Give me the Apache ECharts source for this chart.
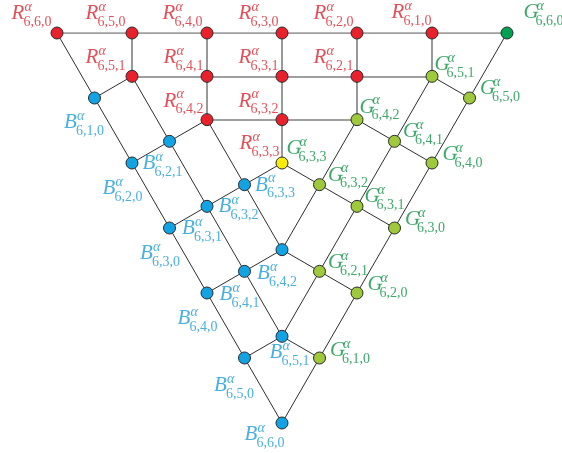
<!DOCTYPE html>
<html><head><meta charset="utf-8">
<script src="https://cdn.jsdelivr.net/npm/echarts@6/dist/echarts.min.js"></script>
<style>html,body{margin:0;padding:0;background:#fff}#c{width:562px;height:453px}</style>
</head><body><div id="c"></div>
<script>
// ---- data: lattice positions (column, row) ----
const redNodes = [[0,0],[2,0],[4,0],[6,0],[8,0],[10,0],[2,2],[4,2],[6,2],[8,2],[4,4],[6,4]];
const blueNodes = [[1,3],[3,5],[2,6],[5,7],[4,8],[3,9],[6,10],[5,11],[4,12],[6,14],[5,15],[6,18]];
const greenNodes = [[10,2],[8,4],[11,3],[9,5],[10,6],[7,7],[8,8],[9,9],[7,11],[8,12],[7,15]];
const darkGreenNodes = [[12,0]];
const yellowNodes = [[6,6]];

// grid (gray) segments and diagonal (dark) segments, between lattice nodes
const gridSegments = [
  [[0,0],[12,0]], [[2,2],[10,2]], [[4,4],[8,4]],
  [[2,0],[2,2]], [[4,0],[4,4]], [[6,0],[6,6]], [[8,0],[8,4]], [[10,0],[10,2]]
];
const diagSegments = [
  [[0,0],[6,18]], [[2,2],[6,14]], [[4,4],[6,10]],
  [[12,0],[6,18]], [[10,2],[6,14]], [[8,4],[6,10]],
  [[1,3],[2,2]], [[2,6],[4,4]], [[3,9],[6,6]], [[4,12],[6,10]], [[5,15],[6,14]],
  [[11,3],[10,2]], [[10,6],[8,4]], [[9,9],[6,6]], [[8,12],[6,10]], [[7,15],[6,14]]
];

// labels: letter, subscript, anchor node
const labelLetters = ['R','R','R','R','R','R','G','R','R','R','R','G','R','R','G','R','G',
  'B','B','B','B','B','B','B','B','B','B','B','B','B',
  'G','G','G','G','G','G','G','G','G'];
const labelSubs = ['6,6,0','6,5,0','6,4,0','6,3,0','6,2,0','6,1,0','6,6,0','6,5,1','6,4,1','6,3,1','6,2,1','6,5,1','6,4,2','6,3,2','6,4,2','6,3,3','6,3,3',
  '6,1,0','6,2,0','6,2,1','6,3,3','6,3,2','6,3,0','6,3,1','6,4,2','6,4,0','6,4,1','6,5,1','6,5,0','6,6,0',
  '6,5,0','6,4,1','6,4,0','6,3,2','6,3,1','6,3,0','6,2,1','6,2,0','6,1,0'];
const labelAnchors = [[0,0],[2,0],[4,0],[6,0],[8,0],[10,0],[12,0],[2,2],[4,2],[6,2],[8,2],[10,2],[4,4],[6,4],[8,4],[6,6],[6,6],
  [1,3],[2,6],[2,6],[5,7],[4,8],[3,9],[3,9],[5,11],[4,12],[4,12],[6,14],[5,15],[6,18],
  [11,3],[9,5],[10,6],[7,7],[8,8],[9,9],[7,11],[8,12],[7,15]];

// ---- styling ----
const labelOffsets = [[-45,-19],[-46,-19],[-44,-19],[-43,-19],[-43,-19],[-40,-20],[17,-20],[-46,-18],[-43,-18],[-43,-18],[-43,-18],[3,-11],[-43,-18],[-43,-18],[3,-12],[-42,-19],[5,-14],
  [-30,25],[-29,26],[11,1],[11,1],[12,1],[-29,26],[13,1],[13,3],[-29,26],[13,2],[-12,17],[-30,28],[-37,12],
  [11,-9],[9,-9],[11,-8],[9,-9],[8,-9],[11,-8],[9,-8],[11,-8],[11,-7]];
const textColors = {R:'#d9262f', B:'#1b9bd7', G:'#0c9242'};
const serif = '"Liberation Serif", "DejaVu Serif", serif';

function segData(segs){ return segs.map(s => ({coords: s})); }
function nodeSeries(data, color){
  return {type:'scatter', data, symbol:'circle', symbolSize:12, z:5,
    itemStyle:{color, borderColor:'#2b2b2b', borderWidth:1, opacity:1}, silent:true};
}
function labelSeries(kind){
  return {type:'scatter', symbol:'circle', symbolSize:1, z:10, silent:true,
    itemStyle:{color:'rgba(0,0,0,0)'},
    data: labelAnchors.map((a,i) => {
      const [dx,dy] = labelOffsets[i];
      const color = textColors[labelLetters[i]];
      let label;
      if (kind === 'letter') label = {show:true, formatter: labelLetters[i], position:[dx,dy], align:'left', verticalAlign:'middle',
        color, fontFamily: serif, fontStyle:'italic', fontSize:21};
      else if (kind === 'alpha') label = {show:true, formatter:'α', position:[dx+13,dy-6.5], align:'left', verticalAlign:'middle',
        color, fontFamily: serif, fontStyle:'italic', fontSize:14};
      else label = {show:true, formatter: labelSubs[i], position:[dx+12,dy+8.5], align:'left', verticalAlign:'middle',
        color, fontFamily: serif, fontSize:14};
      return {value:a, label};
    })
  };
}

const chart = echarts.init(document.getElementById('c'), null, {renderer:'canvas'});
chart.setOption({
  animation:false,
  backgroundColor:'#ffffff',
  grid:{left:57, right:55, top:33, bottom:30},
  xAxis:{type:'value', min:0, max:12, show:false},
  yAxis:{type:'value', min:0, max:18, inverse:true, show:false},
  series:[
    {type:'lines', coordinateSystem:'cartesian2d', data:segData(gridSegments), z:1, silent:true,
      lineStyle:{color:'#7f7f7f', width:1.6, opacity:1}},
    {type:'lines', coordinateSystem:'cartesian2d', data:segData(diagSegments), z:1, silent:true,
      lineStyle:{color:'#2e2e2e', width:1, opacity:1}},
    nodeSeries(redNodes, '#e8212b'),
    nodeSeries(blueNodes, '#11a3e4'),
    nodeSeries(greenNodes, '#9dc93a'),
    nodeSeries(darkGreenNodes, '#00a052'),
    nodeSeries(yellowNodes, '#f7ec0a'),
    labelSeries('letter'),
    labelSeries('alpha'),
    labelSeries('sub')
  ]
});
</script></body></html>
